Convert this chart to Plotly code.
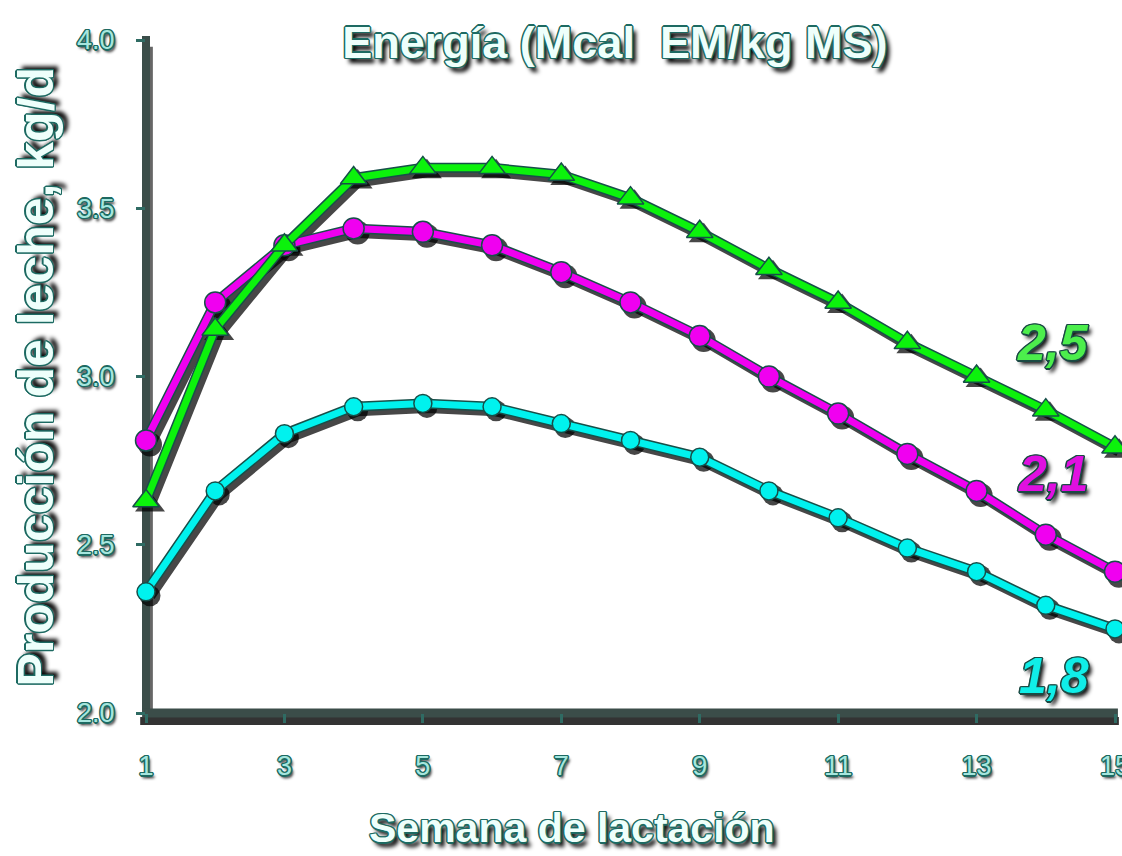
import plotly.graph_objects as go

semanas = list(range(1, 16))
energia_2_5 = [2.63, 3.14, 3.39, 3.59, 3.62, 3.62, 3.60, 3.53, 3.43, 3.32, 3.22, 3.10, 3.00, 2.90, 2.79]
energia_2_1 = [2.81, 3.22, 3.39, 3.44, 3.43, 3.39, 3.31, 3.22, 3.12, 3.00, 2.89, 2.77, 2.66, 2.53, 2.42]
energia_1_8 = [2.36, 2.66, 2.83, 2.91, 2.92, 2.91, 2.86, 2.81, 2.76, 2.66, 2.58, 2.49, 2.42, 2.32, 2.25]
etiquetas = ["2,5", "2,1", "1,8"]
x_ticks = [1, 3, 5, 7, 9, 11, 13, 15]
y_ticks = [2.0, 2.5, 3.0, 3.5, 4.0]

FONT = "Liberation Sans, Arial, sans-serif"
OUT = "#1d6a62"

def outline(c, sh="3px 3px 3px #000"):
    return (f"-1px -1px 0 {c}, 1px -1px 0 {c}, -1px 1px 0 {c}, 1px 1px 0 {c}, "
            f"0 1.5px 0 {c}, 1.5px 0 0 {c}, 0 -1.5px 0 {c}, -1.5px 0 0 {c}, {sh}")

# geometry of the two stacked subplots (shadow + main), offset by a few pixels
W_FULL, H_FULL = 973, 677
SH = 4

fig = go.Figure()

series = [
    (energia_1_8, "#00f2ee", "circle", 18, "1,8"),
    (energia_2_1, "#f000f0", "circle", 21, "2,1"),
    (energia_2_5, "#0cf20c", "triangle-up", 23, "2,5"),
]

# drop shadows (first subplot, drawn underneath)
for ys, col, sym, sz, nm in series:
    fig.add_trace(go.Scatter(
        x=semanas, y=ys, mode="lines+markers", showlegend=False, hoverinfo="skip",
        line=dict(color="rgba(0,0,0,0.72)", width=11),
        marker=dict(symbol=sym, size=sz + 3, color="rgba(0,0,0,0.72)"),
        cliponaxis=False, xaxis="x", yaxis="y",
    ))

# main lines (second subplot, drawn on top)
for ys, col, sym, sz, nm in series:
    fig.add_trace(go.Scatter(
        x=semanas, y=ys, mode="lines", showlegend=False, hoverinfo="skip",
        line=dict(color="#174f49", width=10),
        cliponaxis=False, xaxis="x2", yaxis="y2",
    ))
    fig.add_trace(go.Scatter(
        x=semanas, y=ys, mode="lines+markers", name=nm, showlegend=False,
        line=dict(color=col, width=7),
        marker=dict(symbol=sym, size=sz, color=col, line=dict(color="#174f49", width=1.5)),
        cliponaxis=False, xaxis="x2", yaxis="y2",
    ))

label_cols = {"2,5": "#4cee4c", "2,1": "#e010e0", "1,8": "#10eee8"}
label_y = {"2,5": 3.10, "2,1": 2.71, "1,8": 2.11}
for lab in etiquetas:
    fig.add_annotation(
        x=14.66, y=label_y[lab], xref="x2", yref="y2", text=lab, showarrow=False,
        xanchor="right", yanchor="middle",
        font=dict(family=FONT, size=50, color=label_cols[lab],
                  weight="bold", style="italic", shadow=outline("#1b4a44", "3px 4px 4px #000")),
    )

# axis lines (with shadow) as shapes on the main subplot
axis_col = "#3b4d49"
fig.add_shape(type="line", xref="x2 domain", yref="y2 domain", x0=-0.006, x1=1.004, y0=-0.012, y1=-0.012,
              line=dict(color="rgba(0,0,0,0.8)", width=8), layer="below")
fig.add_shape(type="line", xref="x2 domain", yref="y2 domain", x0=0.004, x1=0.004, y0=-0.005, y1=0.99,
              line=dict(color="rgba(0,0,0,0.6)", width=6), layer="below")
fig.add_shape(type="line", xref="x2 domain", yref="y2 domain", x0=0, x1=0, y0=0, y1=1.006,
              line=dict(color=axis_col, width=8), layer="below")
fig.add_shape(type="line", xref="x2 domain", yref="y2 domain", x0=-0.004, x1=1.003, y0=0, y1=0,
              line=dict(color=axis_col, width=9), layer="below")

tick_font = dict(family=FONT, size=27, color="#a6e6de", shadow=outline(OUT, "2px 3px 3px #000"))
title_font = dict(family=FONT, color="#eefffb", weight="bold", shadow=outline(OUT, "4px 5px 4px #000"))

fig.add_annotation(
    text="Semana de lactación", xref="paper", yref="paper", x=0.438, y=-0.164,
    xanchor="center", yanchor="middle", showarrow=False, font=dict(size=41, **title_font),
)
fig.add_annotation(
    text="Producción de leche, kg/d", xref="paper", yref="paper", x=-0.113, y=0.503,
    xanchor="center", yanchor="middle", textangle=-90, showarrow=False,
    font=dict(size=50, **title_font),
)

hidden = dict(visible=False, showgrid=False, zeroline=False)
fig.update_layout(
    width=1122, height=856,
    paper_bgcolor="white", plot_bgcolor="rgba(0,0,0,0)",
    margin=dict(l=146, r=3, t=40, b=139),
    title=dict(
        text="Energía (Mcal  EM/kg MS)", x=0.548, xanchor="center", y=0.951, yanchor="middle",
        font=dict(size=45, **title_font),
    ),
    xaxis=dict(range=[1, 15], domain=[SH / W_FULL, 1], anchor="y", **hidden),
    yaxis=dict(range=[2.0, 4.0], domain=[0, 1 - SH / H_FULL], anchor="x", **hidden),
    xaxis2=dict(
        range=[1, 15], domain=[0, 1 - SH / W_FULL], anchor="y2",
        tickvals=x_ticks, ticktext=[str(v) for v in x_ticks],
        showgrid=False, zeroline=False, showline=False, automargin=False,
        ticks="outside", ticklen=9, tickwidth=3, tickcolor="#2f6b63",
        tickfont=tick_font, ticklabelstandoff=20, ticklabeloverflow="allow",
    ),
    yaxis2=dict(
        range=[2.0, 4.0], domain=[SH / H_FULL, 1], anchor="x2",
        tickvals=y_ticks, ticktext=[f"{v:.1f}" for v in y_ticks],
        showgrid=False, zeroline=False, showline=False, automargin=False,
        ticks="outside", ticklen=9, tickwidth=3, tickcolor="#2f6b63",
        tickfont=tick_font, ticklabelstandoff=16, ticklabeloverflow="allow",
    ),
)

fig.write_html(
    "out.html",
    config={"displayModeBar": False},
    post_script="document.body.style.margin='0';document.body.style.overflow='hidden';",
)
